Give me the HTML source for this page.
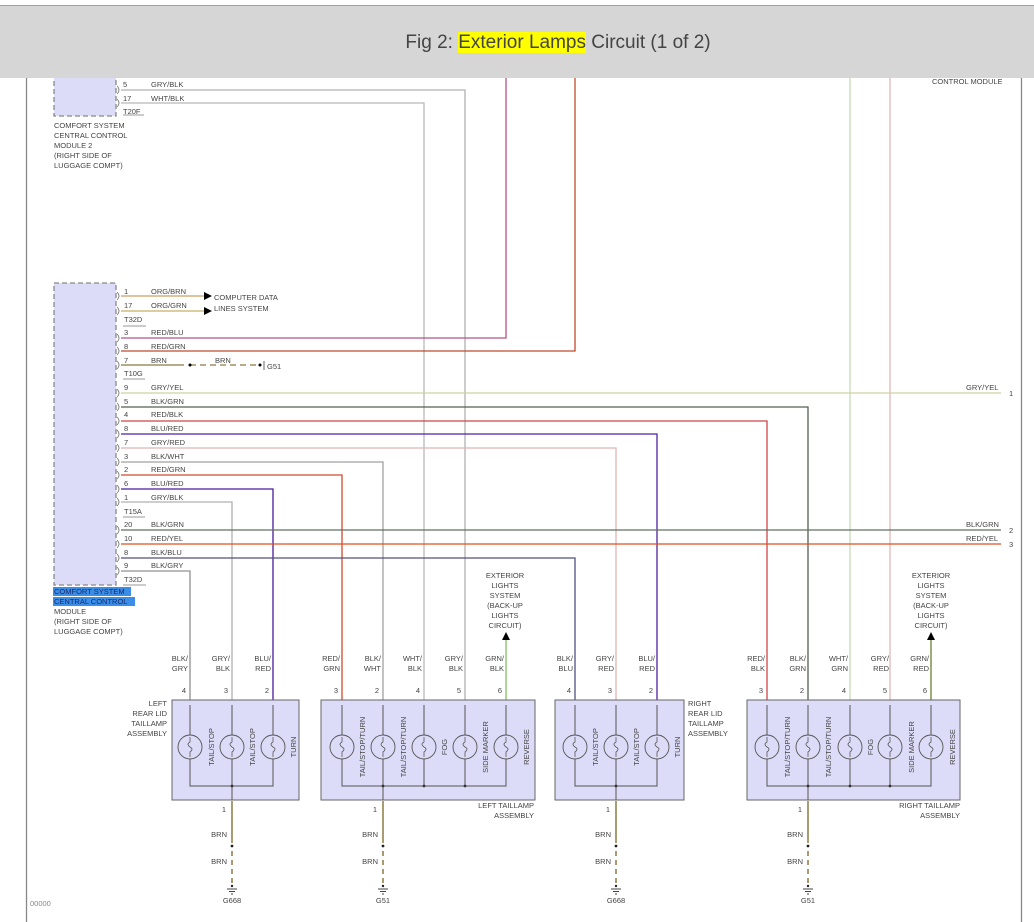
<!DOCTYPE html>
<html><head><meta charset="utf-8"><style>
html,body{margin:0;padding:0;background:#fff;width:1034px;height:922px;overflow:hidden}
#hdr{position:absolute;left:0;top:5px;width:1034px;height:73px;background:#d6d6d6;border-top:1px solid #a0a0a0;font-family:"Liberation Sans",sans-serif;font-size:19px;color:#444;text-align:center;line-height:73px;padding-left:82px;box-sizing:border-box}
#hdr span{background:#ffff00}
svg{position:absolute;left:0;top:0}
text{font-family:"Liberation Sans",sans-serif;font-size:7.5px;fill:#444}
</style></head><body>
<svg width="1034" height="922" viewBox="0 0 1034 922">
<g fill="none" stroke-width="1.3">
<line x1="26.5" y1="78" x2="26.5" y2="922" stroke="#888"/>
<line x1="1021.5" y1="78" x2="1021.5" y2="922" stroke="#888"/>
<rect x="54" y="70" width="62" height="46" fill="#dcdcf8" stroke="#888" stroke-dasharray="5,3"/>
<polyline points="121,90 465,90 465,700" stroke="#b0b0b0"/>
<polyline points="121,103 424,103 424,700" stroke="#b8b8b8"/>
<polyline points="506,78 506,338 121,338" stroke="#b05585"/>
<polyline points="575,78 575,351 121,351" stroke="#c04a2a"/>
<line x1="850" y1="78" x2="850" y2="700" stroke="#c5dcb8"/>
<line x1="890" y1="78" x2="890" y2="700" stroke="#e0b8b8"/>
<rect x="54" y="283" width="62" height="302" fill="#dcdcf8" stroke="#888" stroke-dasharray="5,3"/>
<line x1="121" y1="296" x2="205" y2="296" stroke="#c8a060"/>
<line x1="121" y1="311" x2="205" y2="311" stroke="#c8b060"/>
<line x1="121" y1="365" x2="184" y2="365" stroke="#8b7a40"/>
<line x1="190" y1="365" x2="260" y2="365" stroke="#8b7a40" stroke-dasharray="6,4"/>
<line x1="121" y1="393" x2="1001" y2="393" stroke="#d0d0a0"/>
<polyline points="121,407 808,407 808,700" stroke="#506050"/>
<polyline points="121,421 767,421 767,700" stroke="#d04545"/>
<polyline points="121,434 657,434 657,700" stroke="#5020a0"/>
<polyline points="121,448 616,448 616,700" stroke="#e0b5b5"/>
<polyline points="121,462 383,462 383,700" stroke="#a0a0a0"/>
<polyline points="121,475 342,475 342,700" stroke="#d04a2a"/>
<polyline points="121,489 273,489 273,700" stroke="#4a1a9a"/>
<polyline points="121,502 232,502 232,700" stroke="#b0b0b0"/>
<line x1="121" y1="530" x2="1001" y2="530" stroke="#607060"/>
<line x1="121" y1="544" x2="1001" y2="544" stroke="#e05020"/>
<polyline points="121,558 575,558 575,700" stroke="#505080"/>
<polyline points="121,571 190,571 190,700" stroke="#909090"/>
<line x1="506" y1="640" x2="506" y2="700" stroke="#80c060"/>
<line x1="931" y1="640" x2="931" y2="700" stroke="#6a8030"/>
<g stroke="#777" stroke-width="0.8">
<path d="M117,86 q4,4 0,8 M117,99 q4,4 0,8"/>
<path d="M117,292 q4,4 0,8 M117,307 q4,4 0,8 M117,334 q4,4 0,8 M117,347 q4,4 0,8 M117,361 q4,4 0,8 M117,389 q4,4 0,8 M117,403 q4,4 0,8 M117,417 q4,4 0,8 M117,430 q4,4 0,8 M117,444 q4,4 0,8 M117,458 q4,4 0,8 M117,471 q4,4 0,8 M117,485 q4,4 0,8 M117,498 q4,4 0,8 M117,526 q4,4 0,8 M117,540 q4,4 0,8 M117,554 q4,4 0,8 M117,567 q4,4 0,8"/>
<line x1="123" y1="115" x2="144" y2="115"/><line x1="123" y1="326" x2="146" y2="326"/><line x1="123" y1="379" x2="145" y2="379"/><line x1="123" y1="517" x2="145" y2="517"/><line x1="123" y1="585" x2="146" y2="585"/>
<line x1="264" y1="361" x2="264" y2="370" stroke="#444"/>
</g>
</g>
<g fill="#000">
<polygon points="204,292 212,296 204,300"/><polygon points="204,307 212,311 204,315"/>
<polygon points="502,640 506,632 510,640"/><polygon points="927,640 931,632 935,640"/>
<circle cx="190" cy="365" r="1.5"/><circle cx="260" cy="365" r="1.5"/>
</g>
<text x="123" y="87">5</text><text x="151" y="87">GRY/BLK</text>
<text x="123" y="101">17</text><text x="151" y="101">WHT/BLK</text>
<text x="123" y="114">T20F</text>
<text x="54" y="128">COMFORT SYSTEM</text><text x="54" y="138">CENTRAL CONTROL</text><text x="54" y="148">MODULE 2</text><text x="54" y="158">(RIGHT SIDE OF</text><text x="54" y="168">LUGGAGE COMPT)</text>
<text x="932" y="84">CONTROL MODULE</text>
<text x="124" y="294">1</text><text x="151" y="294">ORG/BRN</text>
<text x="124" y="308">17</text><text x="151" y="308">ORG/GRN</text>
<text x="214" y="300">COMPUTER DATA</text><text x="214" y="311">LINES SYSTEM</text>
<text x="124" y="322">T32D</text>
<text x="124" y="335">3</text><text x="151" y="335">RED/BLU</text>
<text x="124" y="349">8</text><text x="151" y="349">RED/GRN</text>
<text x="124" y="363">7</text><text x="151" y="363">BRN</text><text x="215" y="363">BRN</text><text x="267" y="369">G51</text>
<text x="124" y="376">T10G</text>
<text x="124" y="390">9</text><text x="151" y="390">GRY/YEL</text>
<text x="124" y="404">5</text><text x="151" y="404">BLK/GRN</text>
<text x="124" y="417">4</text><text x="151" y="417">RED/BLK</text>
<text x="124" y="431">8</text><text x="151" y="431">BLU/RED</text>
<text x="124" y="445">7</text><text x="151" y="445">GRY/RED</text>
<text x="124" y="459">3</text><text x="151" y="459">BLK/WHT</text>
<text x="124" y="472">2</text><text x="151" y="472">RED/GRN</text>
<text x="124" y="486">6</text><text x="151" y="486">BLU/RED</text>
<text x="124" y="500">1</text><text x="151" y="500">GRY/BLK</text>
<text x="124" y="514">T15A</text>
<text x="124" y="527">20</text><text x="151" y="527">BLK/GRN</text>
<text x="124" y="541">10</text><text x="151" y="541">RED/YEL</text>
<text x="124" y="555">8</text><text x="151" y="555">BLK/BLU</text>
<text x="124" y="568">9</text><text x="151" y="568">BLK/GRY</text>
<text x="124" y="582">T32D</text>
<rect x="53" y="587" width="78" height="9" fill="#3a8ee8"/><rect x="53" y="597" width="82" height="9" fill="#3a8ee8"/>
<text x="54" y="594" style="fill:#1a2a6a">COMFORT SYSTEM</text><text x="54" y="604" style="fill:#1a2a6a">CENTRAL CONTROL</text>
<text x="54" y="614">MODULE</text><text x="54" y="624">(RIGHT SIDE OF</text><text x="54" y="634">LUGGAGE COMPT)</text>
<text x="966" y="390">GRY/YEL</text><text x="1009" y="396">1</text>
<text x="966" y="527">BLK/GRN</text><text x="1009" y="533">2</text>
<text x="966" y="541">RED/YEL</text><text x="1009" y="547">3</text>
<g text-anchor="middle">
<text x="505" y="578">EXTERIOR</text><text x="505" y="588">LIGHTS</text><text x="505" y="598">SYSTEM</text><text x="505" y="608">(BACK-UP</text><text x="505" y="618">LIGHTS</text><text x="505" y="628">CIRCUIT)</text>
<text x="931" y="578">EXTERIOR</text><text x="931" y="588">LIGHTS</text><text x="931" y="598">SYSTEM</text><text x="931" y="608">(BACK-UP</text><text x="931" y="618">LIGHTS</text><text x="931" y="628">CIRCUIT)</text>
</g>
<g text-anchor="end">
<text x="188" y="661">BLK/</text><text x="188" y="671">GRY</text>
<text x="230" y="661">GRY/</text><text x="230" y="671">BLK</text>
<text x="271" y="661">BLU/</text><text x="271" y="671">RED</text>
<text x="340" y="661">RED/</text><text x="340" y="671">GRN</text>
<text x="381" y="661">BLK/</text><text x="381" y="671">WHT</text>
<text x="422" y="661">WHT/</text><text x="422" y="671">BLK</text>
<text x="463" y="661">GRY/</text><text x="463" y="671">BLK</text>
<text x="504" y="661">GRN/</text><text x="504" y="671">BLK</text>
<text x="573" y="661">BLK/</text><text x="573" y="671">BLU</text>
<text x="614" y="661">GRY/</text><text x="614" y="671">RED</text>
<text x="655" y="661">BLU/</text><text x="655" y="671">RED</text>
<text x="765" y="661">RED/</text><text x="765" y="671">BLK</text>
<text x="806" y="661">BLK/</text><text x="806" y="671">GRN</text>
<text x="848" y="661">WHT/</text><text x="848" y="671">GRN</text>
<text x="889" y="661">GRY/</text><text x="889" y="671">RED</text>
<text x="929" y="661">GRN/</text><text x="929" y="671">RED</text>
<text x="186" y="693">4</text><text x="228" y="693">3</text><text x="269" y="693">2</text>
<text x="338" y="693">3</text><text x="379" y="693">2</text><text x="420" y="693">4</text><text x="461" y="693">5</text><text x="502" y="693">6</text>
<text x="571" y="693">4</text><text x="612" y="693">3</text><text x="653" y="693">2</text>
<text x="763" y="693">3</text><text x="804" y="693">2</text><text x="846" y="693">4</text><text x="887" y="693">5</text><text x="927" y="693">6</text>
<text x="167" y="706">LEFT</text><text x="167" y="716">REAR LID</text><text x="167" y="726">TAILLAMP</text><text x="167" y="736">ASSEMBLY</text>
<text x="534" y="808">LEFT TAILLAMP</text><text x="534" y="818">ASSEMBLY</text>
<text x="960" y="808">RIGHT TAILLAMP</text><text x="960" y="818">ASSEMBLY</text>
<text x="226" y="812">1</text><text x="377" y="812">1</text><text x="610" y="812">1</text><text x="802" y="812">1</text>
</g>
<text x="688" y="706">RIGHT</text><text x="688" y="716">REAR LID</text><text x="688" y="726">TAILLAMP</text><text x="688" y="736">ASSEMBLY</text>
<g stroke="#666" stroke-width="1" fill="#dcdcf8">
<rect x="172" y="700" width="127" height="100"/>
<rect x="321" y="700" width="214" height="100"/>
<rect x="555" y="700" width="129" height="100"/>
<rect x="747" y="700" width="213" height="100"/>
</g>
<g stroke="#555" stroke-width="1" fill="none">
<polyline points="190,705 190,786 273,786 273,705"/><line x1="232" y1="705" x2="232" y2="800"/>
<polyline points="342,705 342,786 506,786 506,705"/><line x1="383" y1="705" x2="383" y2="800"/><line x1="424" y1="705" x2="424" y2="786"/><line x1="465" y1="705" x2="465" y2="786"/>
<polyline points="575,705 575,786 657,786 657,705"/><line x1="616" y1="705" x2="616" y2="800"/>
<polyline points="767,705 767,786 931,786 931,705"/><line x1="808" y1="705" x2="808" y2="800"/><line x1="850" y1="705" x2="850" y2="786"/><line x1="890" y1="705" x2="890" y2="786"/>
</g>
<g fill="#333">
<circle cx="232" cy="786" r="1.4"/><circle cx="383" cy="786" r="1.4"/><circle cx="424" cy="786" r="1.4"/><circle cx="465" cy="786" r="1.4"/>
<circle cx="616" cy="786" r="1.4"/><circle cx="808" cy="786" r="1.4"/><circle cx="850" cy="786" r="1.4"/><circle cx="890" cy="786" r="1.4"/>
</g>
<g stroke="#555" stroke-width="0.9" fill="#dcdcf8">
<circle cx="190" cy="747" r="12"/><circle cx="232" cy="747" r="12"/><circle cx="273" cy="747" r="12"/>
<circle cx="342" cy="747" r="12"/><circle cx="383" cy="747" r="12"/><circle cx="424" cy="747" r="12"/><circle cx="465" cy="747" r="12"/><circle cx="506" cy="747" r="12"/>
<circle cx="575" cy="747" r="12"/><circle cx="616" cy="747" r="12"/><circle cx="657" cy="747" r="12"/>
<circle cx="767" cy="747" r="12"/><circle cx="808" cy="747" r="12"/><circle cx="850" cy="747" r="12"/><circle cx="890" cy="747" r="12"/><circle cx="931" cy="747" r="12"/>
</g>
<g stroke="#555" stroke-width="0.8" fill="none">
<path d="M190,737 v5 q-4,2 0,5 q4,2 0,5 v5 M232,737 v5 q-4,2 0,5 q4,2 0,5 v5 M273,737 v5 q-4,2 0,5 q4,2 0,5 v5 M342,737 v5 q-4,2 0,5 q4,2 0,5 v5 M383,737 v5 q-4,2 0,5 q4,2 0,5 v5 M424,737 v5 q-4,2 0,5 q4,2 0,5 v5 M465,737 v5 q-4,2 0,5 q4,2 0,5 v5 M506,737 v5 q-4,2 0,5 q4,2 0,5 v5 M575,737 v5 q-4,2 0,5 q4,2 0,5 v5 M616,737 v5 q-4,2 0,5 q4,2 0,5 v5 M657,737 v5 q-4,2 0,5 q4,2 0,5 v5 M767,737 v5 q-4,2 0,5 q4,2 0,5 v5 M808,737 v5 q-4,2 0,5 q4,2 0,5 v5 M850,737 v5 q-4,2 0,5 q4,2 0,5 v5 M890,737 v5 q-4,2 0,5 q4,2 0,5 v5 M931,737 v5 q-4,2 0,5 q4,2 0,5 v5"/>
</g>
<g text-anchor="middle">
<text transform="translate(214,747) rotate(-90)">TAIL/STOP</text>
<text transform="translate(255,747) rotate(-90)">TAIL/STOP</text>
<text transform="translate(296,747) rotate(-90)">TURN</text>
<text transform="translate(365,747) rotate(-90)">TAIL/STOP/TURN</text>
<text transform="translate(406,747) rotate(-90)">TAIL/STOP/TURN</text>
<text transform="translate(447,747) rotate(-90)">FOG</text>
<text transform="translate(488,747) rotate(-90)">SIDE MARKER</text>
<text transform="translate(529,747) rotate(-90)">REVERSE</text>
<text transform="translate(598,747) rotate(-90)">TAIL/STOP</text>
<text transform="translate(639,747) rotate(-90)">TAIL/STOP</text>
<text transform="translate(680,747) rotate(-90)">TURN</text>
<text transform="translate(790,747) rotate(-90)">TAIL/STOP/TURN</text>
<text transform="translate(831,747) rotate(-90)">TAIL/STOP/TURN</text>
<text transform="translate(873,747) rotate(-90)">FOG</text>
<text transform="translate(914,747) rotate(-90)">SIDE MARKER</text>
<text transform="translate(955,747) rotate(-90)">REVERSE</text>
</g>
<g stroke="#8b7a40" stroke-width="1.5" fill="none">
<line x1="232" y1="801" x2="232" y2="843"/><line x1="232" y1="851" x2="232" y2="884" stroke-dasharray="5,4"/>
<line x1="383" y1="801" x2="383" y2="843"/><line x1="383" y1="851" x2="383" y2="884" stroke-dasharray="5,4"/>
<line x1="616" y1="801" x2="616" y2="843"/><line x1="616" y1="851" x2="616" y2="884" stroke-dasharray="5,4"/>
<line x1="808" y1="801" x2="808" y2="843"/><line x1="808" y1="851" x2="808" y2="884" stroke-dasharray="5,4"/>
</g>
<g stroke="#444" stroke-width="0.9">
<path d="M227,889 h10 M229,891.5 h6 M231,894 h2"/><path d="M378,889 h10 M380,891.5 h6 M382,894 h2"/>
<path d="M611,889 h10 M613,891.5 h6 M615,894 h2"/><path d="M803,889 h10 M805,891.5 h6 M807,894 h2"/>
</g>
<g fill="#222"><circle cx="232" cy="846" r="1.4"/><circle cx="383" cy="846" r="1.4"/><circle cx="616" cy="846" r="1.4"/><circle cx="808" cy="846" r="1.4"/>
<circle cx="232" cy="886" r="1.2"/><circle cx="383" cy="886" r="1.2"/><circle cx="616" cy="886" r="1.2"/><circle cx="808" cy="886" r="1.2"/></g>
<g text-anchor="end">
<text x="227" y="837">BRN</text><text x="227" y="864">BRN</text>
<text x="378" y="837">BRN</text><text x="378" y="864">BRN</text>
<text x="611" y="837">BRN</text><text x="611" y="864">BRN</text>
<text x="803" y="837">BRN</text><text x="803" y="864">BRN</text>
</g>
<g text-anchor="middle">
<text x="232" y="903">G668</text><text x="383" y="903">G51</text><text x="616" y="903">G668</text><text x="808" y="903">G51</text>
</g>
<text x="30" y="906" style="fill:#888">00000</text>
</svg>
<div id="hdr">Fig 2: <span>Exterior Lamps</span> Circuit (1 of 2)</div>
</body></html>
